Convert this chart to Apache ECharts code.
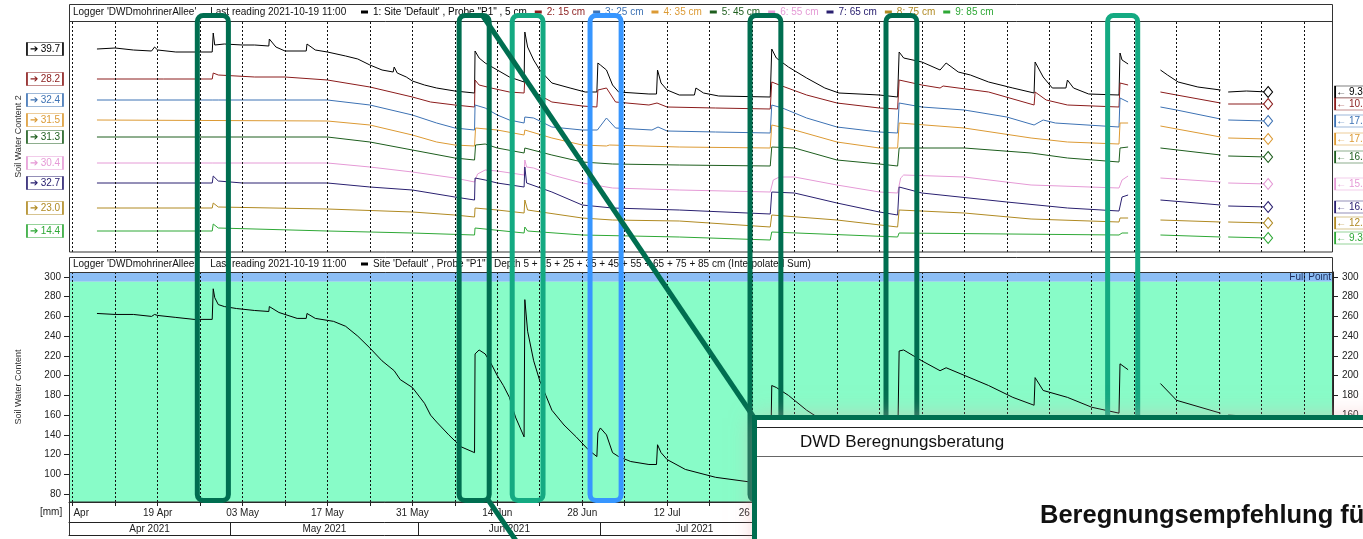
<!DOCTYPE html>
<html><head><meta charset="utf-8">
<script src="https://cdn.jsdelivr.net/npm/echarts@6/dist/echarts.min.js"></script>
<style>html,body{margin:0;padding:0;background:#fff;overflow:hidden}#c{width:1363px;height:539px}</style>
</head><body><div id="c"></div>
<script>
// ---------------- DATA ----------------
const YEAR = 2021;
const loggerTitle = "Logger 'DWDmohrinerAllee'     Last reading 2021-10-19 11:00";
const probeNames = ["1: Site 'Default' , Probe \"P1\" , 5 cm", "2: 15 cm", "3: 25 cm", "4: 35 cm", "5: 45 cm", "6: 55 cm", "7: 65 cm", "8: 75 cm", "9: 85 cm"];
const sumName = "Site 'Default' , Probe \"P1\" , Depth 5 + 15 + 25 + 35 + 45 + 55 + 65 + 75 + 85 cm (Interpolated Sum)";
const startLabels = ['39.7','28.2','32.4','31.5','31.3','30.4','32.7','23.0','14.4'];
const endLabels = ['9.3','10.1','17.3','17.0','16.4','15.6','16.3','12.8','9.3'];

// top panel: relative display level of each probe trace (hidden scale 0..231)
const probe1 = [['04-09',203],['04-12',204],['04-15',202],['04-18',201],['04-18 12:00',205],['04-19',202],['04-22',200],['04-25',200],['04-28',200],['04-28 04:00',219],['04-28 10:00',207],['04-30',208],['05-03',207],['05-05',207],['05-07 08:00',206],['05-07 10:00',213],['05-08 12:00',205],['05-10',201],['05-13 12:00',201],['05-13 15:00',208],['05-15',202],['05-17',200],['05-20',196],['05-22',193],['05-24',187],['05-26',182],['05-27 20:00',180],['05-28',185],['05-28 12:00',179],['05-30',175],['05-31',171],['06-02',167],['06-04',164],['06-07',161],['06-10 06:00',159],['06-10 08:00',201],['06-11',194],['06-12',189],['06-14',182],['06-16',175],['06-18 10:00',170],['06-18 13:00',220],['06-19',205],['06-20',192],['06-21',182],['06-23',169],['06-26',164],['06-28 12:00',160],['06-30 10:00',160],['06-30 14:00',189],['07-01',187],['07-02',182],['07-03',167],['07-04',160],['07-09',158],['07-10 06:00',158],['07-10 10:00',182],['07-11',169],['07-12',162],['07-14',157],['07-16 12:00',157],['07-16 18:00',164],['07-18',159],['07-20 12:00',156],['07-29',155],['07-29 06:00',203],['07-30',194],['08-01',185],['08-04',174],['08-07',164],['08-09 08:00',159],['08-16',157],['08-19',155],['08-19 06:00',200],['08-20',194],['08-23',190],['08-26',182],['08-27',189],['08-29',180],['08-31',177],['09-03',170],['09-07',164],['09-10 12:00',159],['09-10 16:00',190],['09-12',175],['09-13 12:00',164],['09-15 18:00',164],['09-16',172],['09-17',164],['09-19 12:00',158],['09-24 12:00',157],['09-24 16:00',199],['09-25',192],['09-26',188],['09-28',null],['10-01 08:00',182],['10-02 12:00',177],['10-04 06:00',170],['10-07 12:00',165],['10-11 06:00',162],['10-12',null],['10-12 12:00',160],['10-15 12:00',161],['10-19 02:00',160]];
const probe2 = [['04-09',173],['04-20',173],['04-28',173],['04-28 04:00',179],['04-29',177],['05-05',175],['05-10',175],['05-17',172],['05-24',165],['05-31',155],['06-03',150],['06-07',147],['06-10 06:00',145],['06-10 08:00',172],['06-11',167],['06-13',164],['06-16',160],['06-18 10:00',159],['06-18 13:00',174],['06-20',160],['06-23',150],['06-28',146],['06-30 10:00',145],['06-30 14:00',162],['07-02',164],['07-03 12:00',150],['07-09',147],['07-10 08:00',149],['07-12',145],['07-20',144],['07-29',143],['07-29 06:00',170],['07-30 12:00',167],['08-04',157],['08-09',149],['08-16',144],['08-19',143],['08-19 06:00',172],['08-23',167],['08-26',164],['08-26 12:00',166],['09-03',160],['09-10 12:00',147],['09-10 16:00',160],['09-12 12:00',152],['09-16',147],['09-24 12:00',145],['09-24 16:00',169],['09-26',167],['09-28',null],['10-01 08:00',160],['10-04',157],['10-11 06:00',149],['10-12',null],['10-12 12:00',148],['10-19 02:00',148]];
const probe3 = [['04-09',152],['04-28',152],['04-28 06:00',153],['04-29',152],['05-17',152],['05-24',147],['05-31',137],['06-04',129],['06-07',124],['06-10 06:00',122],['06-10 08:00',147],['06-12',144],['06-14',137],['06-16',132],['06-18 10:00',129],['06-18 13:00',135],['06-20',134],['06-23',125],['06-28',122],['06-30 12:00',122],['07-02',134],['07-03 12:00',124],['07-09 12:00',122],['07-10 12:00',125],['07-12',121],['07-20',120],['07-29',119],['07-29 06:00',147],['07-31',144],['08-04',134],['08-09',125],['08-16',120],['08-19',119],['08-19 06:00',149],['08-23',145],['08-30',142],['09-06',135],['09-10 12:00',127],['09-12',132],['09-14',129],['09-24 12:00',125],['09-24 16:00',154],['09-26',150],['09-28',null],['10-01 08:00',145],['10-04',142],['10-11 06:00',133],['10-12',null],['10-12 12:00',132],['10-19 02:00',131]];
const probe4 = [['04-09',132],['05-17',131],['05-24',127],['05-31',117],['06-04',110],['06-07',107],['06-10 06:00',106],['06-10 10:00',124],['06-14',122],['06-18 10:00',117],['06-18 13:00',122],['06-23',114],['06-28',107],['07-02',106],['07-02 12:00',107],['07-14',105],['07-29',104],['07-29 06:00',127],['08-02',122],['08-09',110],['08-16',104],['08-19',104],['08-19 06:00',129],['08-30',124],['09-10',114],['09-16',110],['09-24 12:00',108],['09-24 16:00',129],['09-26',129],['09-28',null],['10-01 08:00',126],['10-11 06:00',115],['10-12',null],['10-12 12:00',114],['10-19 02:00',113]];
const probe5 = [['04-09',115],['05-17',115],['05-24',110],['05-31',102],['06-07',94],['06-10 06:00',92],['06-10 10:00',107],['06-12',108],['06-14',104],['06-18 10:00',99],['06-18 13:00',104],['06-23',97],['06-28',90],['07-03',88],['07-14',87],['07-29',86],['07-29 06:00',105],['08-02',104],['08-09',92],['08-16',88],['08-19',86],['08-19 06:00',104],['08-30',104],['09-10',99],['09-16',94],['09-24 12:00',90],['09-24 16:00',104],['09-26',105],['09-28',null],['10-01 08:00',104],['10-11 06:00',97],['10-12',null],['10-12 12:00',96],['10-19 02:00',95]];
const probe6 = [['04-09',89],['04-28',89],['04-28 06:00',90],['05-17',89],['05-24',85],['05-31',80],['06-07',74],['06-10 06:00',70],['06-10 18:00',78],['06-12',82],['06-14',81],['06-18 10:00',77],['06-18 13:00',92],['06-18 20:00',85],['06-20',84],['06-23',77],['06-28',69],['07-03',64],['07-14',62],['07-29',60],['07-29 12:00',72],['07-30 12:00',75],['08-02',75],['08-09',67],['08-16',60],['08-19',59],['08-19 12:00',74],['08-20',77],['08-30',75],['09-10',67],['09-24 12:00',64],['09-25',72],['09-26',76],['09-28',null],['10-01 08:00',74],['10-11 06:00',70],['10-12',null],['10-12 12:00',69],['10-19 02:00',68]];
const probe7 = [['04-09',69],['04-28',69],['04-28 04:00',76],['04-29',71],['05-03',69],['05-17',69],['05-24',65],['05-31',62],['06-07',55],['06-10 06:00',52],['06-10 08:00',74],['06-12',72],['06-14',69],['06-18 10:00',65],['06-18 13:00',85],['06-18 20:00',69],['06-23',60],['06-28',47],['07-03',44],['07-14',42],['07-29',38],['07-29 06:00',60],['08-02',59],['08-09',49],['08-16',40],['08-19',37],['08-19 06:00',65],['08-23',59],['09-06',50],['09-16',44],['09-24 12:00',41],['09-25',55],['09-26',57],['09-28',null],['10-01 08:00',52],['10-11 06:00',47],['10-12',null],['10-12 12:00',46],['10-19 02:00',45]];
const probe8 = [['04-09',44],['04-28',44],['04-28 04:00',49],['04-29',45],['05-17',43],['05-31',40],['06-07',37],['06-10 06:00',35],['06-10 08:00',44],['06-14',42],['06-18 10:00',39],['06-18 13:00',52],['06-19',42],['06-28',34],['07-03',32],['07-14',31],['07-29',25],['07-29 06:00',37],['08-09',32],['08-19',25],['08-19 06:00',42],['08-30',39],['09-10',33],['09-24 12:00',30],['09-24 16:00',34],['09-26',34],['09-28',null],['10-01 08:00',32],['10-11 06:00',30],['10-12',null],['10-12 12:00',30],['10-19 02:00',29]];
const probe9 = [['04-09',21],['04-28',21],['04-28 04:00',28],['04-29',24],['05-17',21],['05-31',19],['06-10 06:00',17],['06-10 08:00',24],['06-18 10:00',19],['06-18 13:00',25],['06-19',21],['06-28',17],['07-14',15],['07-29',12],['07-29 06:00',20],['08-19',15],['08-19 06:00',19],['09-24 12:00',17],['09-25',19],['09-26',19],['09-28',null],['10-01 08:00',17],['10-11 06:00',15],['10-12',null],['10-12 12:00',15],['10-19 02:00',14]];

// bottom panel: soil water content sum [mm]
const sumSeries = [['04-09',263],['04-12',262],['04-15',262],['04-18',260],['04-18 12:00',262],['04-19',261],['04-22',259],['04-25',257],['04-28',257],['04-28 04:00',288],['04-28 10:00',279],['04-29',272],['04-30',270],['05-02',268],['05-05',266],['05-07 08:00',265],['05-07 10:00',270],['05-09',264],['05-12',258],['05-13 12:00',258],['05-13 15:00',263],['05-15',258],['05-18',255],['05-20',250],['05-22',240],['05-24',228],['05-26',215],['05-28',205],['05-29',196],['05-31',188],['06-02',172],['06-03',160],['06-04',153],['06-06',140],['06-08',128],['06-10 06:00',122],['06-10 08:00',222],['06-11',226],['06-12',222],['06-13',212],['06-14',200],['06-15',190],['06-16',178],['06-17',158],['06-18 10:00',138],['06-18 13:00',277],['06-19',245],['06-20',215],['06-21',195],['06-22',180],['06-23',165],['06-25',150],['06-27',138],['06-29',125],['06-30 10:00',118],['06-30 14:00',142],['07-01',147],['07-02',140],['07-03',122],['07-04',118],['07-06',113],['07-09',110],['07-10 06:00',110],['07-10 10:00',130],['07-11',122],['07-12',115],['07-15',105],['07-20',97],['07-26',92],['07-29',90],['07-29 06:00',190],['07-30',188],['08-01',180],['08-04',165],['08-09',145],['08-16',130],['08-19',125],['08-19 06:00',225],['08-20',226],['08-23',215],['08-26',205],['08-27',208],['09-03',190],['09-07',178],['09-10 12:00',170],['09-10 16:00',198],['09-12',185],['09-16',178],['09-20',168],['09-24 12:00',162],['09-24 16:00',212],['09-26',206],['09-28',null],['10-01 08:00',192],['10-04',175],['10-11 06:00',162],['10-12',null],['10-12 12:00',160],['10-19 02:00',158]];

const bandFullPoint = [295, 305];
const bandAvailable = [72, 295];
const yTickValues = [80,100,120,140,160,180,200,220,240,260,280,300];
const dateTickLabels = [['04-05','Apr'],['04-19','19 Apr'],['05-03','03 May'],['05-17','17 May'],['05-31','31 May'],['06-14','14 Jun'],['06-28','28 Jun'],['07-12','12 Jul'],['07-26','26 Jul'],['08-09','09 Aug'],['08-23','23 Aug'],['09-06','06 Sep'],['09-20','20 Sep'],['10-04','04 Oct'],['10-18','18 Oct']];
const monthStarts = ['05-01','06-01','07-01','08-01','09-01','10-01'];
const monthLabels = [['04-17 16:00','Apr 2021'],['05-16 12:00','May 2021'],['06-16','Jun 2021'],['07-16 12:00','Jul 2021'],['08-16 12:00','Aug 2021'],['09-16','Sep 2021'],['10-16','Oct 2021']];
const highlightRanges = [['04-25 13:00','04-30 16:00'],['06-07 17:00','06-12 16:00'],['06-16 11:00','06-21 13:00'],['06-29 07:00','07-04 10:00'],['07-25 16:00','07-30 18:00'],['08-17 02:00','08-22 04:00'],['09-22 15:00','09-27 14:00']];
const insetHeader = 'DWD Beregnungsberatung';
const insetTitle = 'Beregnungsempfehlung für';

// ---------------- STYLE ----------------
const FONT = "'Liberation Sans', Arial, sans-serif";
const probeColors = ['#000000','#8b1c1c','#3d72b4','#dc9a34','#1e5e1e','#e59ad6','#2a2070','#b08a22','#2ea836'];
const highlightColors = ['#006e50','#006e50','#14aa82','#3796ff','#006e50','#006e50','#14aa82'];
const DARK = '#006e50';

function ts(s){ const p=s.split(' '); const md=p[0].split('-').map(Number); const hm=(p[1]||'00:00').split(':').map(Number); return new Date(YEAR,md[0]-1,md[1],hm[0],hm[1]).getTime(); }
const prep = arr => arr.map(d => [ts(d[0]), d[1]]);
const X_MIN = ts('04-04 09:20'), X_MAX = ts('10-29 18:45');
const weekTs = []; for (let t = ts('04-05'); t <= X_MAX; t += 7*86400000) weekTs.push(t);
const labelTs = dateTickLabels.map(d => ts(d[0]));
const monthLabelTs = monthLabels.map(d => ts(d[0]));
const nearest = (arr, v) => { let bi=0, bd=Infinity; arr.forEach((a,i)=>{ const dd=Math.abs(a-v); if(dd<bd){bd=dd;bi=i;} }); return bi; };

const probes = [probe1,probe2,probe3,probe4,probe5,probe6,probe7,probe8,probe9].map(prep);
const sumData = prep(sumSeries);

const chart = echarts.init(document.getElementById('c'), null, {renderer:'canvas'});
const series = [];
series.push({type:'line', xAxisIndex:0, yAxisIndex:0, data:[], z:1, silent:true,
  markLine:{silent:true, symbol:['none','none'], label:{show:false}, lineStyle:{color:'#111', type:[2,2], width:1}, data: weekTs.map(t=>({xAxis:t}))}});
probes.forEach((d,i) => {
  const col = probeColors[i];
  const first = d[0], last = d[d.length-1];
  series.push({type:'line', name:probeNames[i], xAxisIndex:0, yAxisIndex:0, data:d, color:col, showSymbol:false, symbol:'none',
    lineStyle:{width:1, color:col}, z:3, connectNulls:false, silent:true,
    markPoint:{silent:true, data:[
      {coord:first, symbol:'rect', symbolSize:[36,13], symbolOffset:[-52,0], itemStyle:{color:'#fff', borderColor:col, borderWidth:1},
        label:{show:true, position:'inside', formatter:'➔ '+startLabels[i], color:col, fontSize:10, fontFamily:FONT}},
      {coord:last, symbol:'diamond', symbolSize:[9,11], itemStyle:{color:'#fff', borderColor:col, borderWidth:1}, label:{show:false}},
      {coord:last, symbol:'rect', symbolSize:[40,12], symbolOffset:[87,0], itemStyle:{color:'#fff', borderColor:col, borderWidth:1},
        label:{show:true, position:'insideLeft', distance:2, formatter:'← '+endLabels[i], color:col, fontSize:10, fontFamily:FONT}}
    ]}});
});
series.push({type:'line', xAxisIndex:1, yAxisIndex:1, data:[], z:0, silent:true,
  markArea:{silent:true, data:[
    [{yAxis:bandFullPoint[0], itemStyle:{color:'#8cbef5'}, label:{show:true, position:'insideRight', distance:2, formatter:'Full Point', color:'#1b2b5b', fontSize:10, fontFamily:FONT}},{yAxis:bandFullPoint[1]}],
    [{yAxis:bandAvailable[0], itemStyle:{color:'#88fcc8'}, label:{show:false}},{yAxis:bandAvailable[1]}]
  ]}});
series.push({type:'line', xAxisIndex:1, yAxisIndex:1, data:[], z:1, silent:true,
  markLine:{silent:true, symbol:['none','none'], label:{show:false}, lineStyle:{color:'#111', type:[2,2], width:1}, data: weekTs.map(t=>({xAxis:t}))}});
series.push({type:'line', name:sumName, xAxisIndex:1, yAxisIndex:1, data:sumData, color:'#000', showSymbol:false, symbol:'none', lineStyle:{width:1,color:'#000'}, z:3, silent:true});

const option = {
  animation:false,
  textStyle:{fontFamily:FONT},
  title:[
    {text:loggerTitle, left:73, top:7, padding:0, textStyle:{fontSize:10, fontWeight:'normal', color:'#111', fontFamily:FONT}},
    {text:loggerTitle, left:73, top:259, padding:0, textStyle:{fontSize:10, fontWeight:'normal', color:'#111', fontFamily:FONT}}
  ],
  legend:[
    {data: probeNames.map((n,i)=>({name:n, textStyle:{color:probeColors[i]}})), left:361, top:7, padding:0, itemWidth:7, itemHeight:3, itemGap:8, icon:'rect', selectedMode:false, textStyle:{fontSize:10, fontFamily:FONT}},
    {data:[{name:sumName}], left:361, top:259, padding:0, itemWidth:7, itemHeight:3, icon:'rect', selectedMode:false, textStyle:{fontSize:10, color:'#111', fontFamily:FONT}}
  ],
  grid:[{left:69, right:30, top:21, height:231},{left:69, right:30, top:272, height:230},{left:69, right:30, top:522, height:13}],
  xAxis:[
    {gridIndex:0, type:'value', min:X_MIN, max:X_MAX, axisLine:{show:false}, axisTick:{show:false}, axisLabel:{show:false}, splitLine:{show:false}},
    {gridIndex:1, type:'value', position:'bottom', min:X_MIN, max:X_MAX, axisLine:{show:true, onZero:false, lineStyle:{color:'#222'}},
      axisTick:{show:true, length:4, customValues:weekTs, lineStyle:{color:'#222'}},
      axisLabel:{show:true, customValues:labelTs, margin:6, fontSize:10, color:'#222', hideOverlap:false,
        formatter:(v)=>{ const s=dateTickLabels[nearest(labelTs,v)][1]; return s==='Apr' ? '{f|Apr}' : s; },
        rich:{f:{padding:[0,0,0,17], fontSize:10, color:'#222'}}},
      splitLine:{show:false}},
    {gridIndex:2, type:'value', position:'bottom', min:X_MIN, max:X_MAX, axisLine:{show:true, onZero:false, lineStyle:{color:'#222'}},
      axisTick:{show:true, inside:true, length:13, customValues:[X_MIN, ...monthStarts.map(ts), X_MAX], lineStyle:{color:'#222'}},
      axisLabel:{show:true, inside:true, margin:1, customValues:monthLabelTs, fontSize:10, color:'#222', hideOverlap:false,
        formatter:(v)=>monthLabels[nearest(monthLabelTs,v)][1]},
      splitLine:{show:false}},
    {gridIndex:2, type:'value', position:'top', min:X_MIN, max:X_MAX, axisLine:{show:true, onZero:false, lineStyle:{color:'#222'}}, axisTick:{show:false}, axisLabel:{show:false}, splitLine:{show:false}}
  ],
  yAxis:[
    {gridIndex:0, type:'value', min:0, max:231, axisLine:{show:false}, axisTick:{show:false}, axisLabel:{show:false}, splitLine:{show:false},
      name:'Soil Water Content 2', nameLocation:'middle', nameGap:46, nameTextStyle:{fontSize:9, color:'#333', fontFamily:FONT}},
    {gridIndex:1, type:'value', min:72, max:305, position:'left', axisLine:{show:true, lineStyle:{color:'#222'}},
      axisTick:{show:true, length:5, customValues:yTickValues, lineStyle:{color:'#222'}},
      axisLabel:{show:true, customValues:yTickValues, margin:8, fontSize:10, color:'#222'}, splitLine:{show:false},
      name:'Soil Water Content', nameLocation:'middle', nameGap:46, nameTextStyle:{fontSize:9, color:'#333', fontFamily:FONT}},
    {gridIndex:1, type:'value', min:72, max:305, position:'right', axisLine:{show:true, lineStyle:{color:'#222'}},
      axisTick:{show:true, length:5, customValues:yTickValues, lineStyle:{color:'#222'}},
      axisLabel:{show:true, customValues:yTickValues, margin:9, fontSize:10, color:'#222'}, splitLine:{show:false}},
    {gridIndex:2, type:'value', min:0, max:1, show:false}
  ],
  series: series
};
chart.setOption(option);

// ----- frames and annotation overlay (positions from the axis scale) -----
const px = s => chart.convertToPixel({xAxisIndex:0}, ts(s));
const gfx = [];
const frame = {fill:'none', stroke:'#333', lineWidth:1};
gfx.push({type:'rect', z:50, silent:true, shape:{x:69.5, y:4.5, width:1263, height:247.5}, style:frame});
gfx.push({type:'line', z:50, silent:true, shape:{x1:69.5, y1:21.5, x2:1332.5, y2:21.5}, style:{stroke:'#333', lineWidth:1}});
gfx.push({type:'rect', z:50, silent:true, shape:{x:69.5, y:257.5, width:1263, height:244.5}, style:frame});
gfx.push({type:'line', z:50, silent:true, shape:{x1:69.5, y1:272.5, x2:1332.5, y2:272.5}, style:{stroke:'#333', lineWidth:1}});
gfx.push({type:'line', z:50, silent:true, shape:{x1:69.5, y1:502, x2:69.5, y2:535}, style:{stroke:'#333', lineWidth:1}});
gfx.push({type:'text', z:50, silent:true, x:40, y:512, style:{text:'[mm]', fill:'#222', font:'10px '+FONT, verticalAlign:'middle'}});
let boxB = null;
highlightRanges.forEach((r,i) => {
  const x1 = px(r[0]), x2 = px(r[1]);
  if (i===1) boxB = [x1,x2];
  gfx.push({type:'rect', z:100, silent:true, shape:{x:x1, y:15.5, width:x2-x1, height:485, r:6}, style:{fill:'none', stroke:highlightColors[i], lineWidth:5}});
});
gfx.push({type:'line', z:101, silent:true, shape:{x1:boxB[1]-7, y1:15, x2:755, y2:419}, style:{stroke:DARK, lineWidth:5}});
gfx.push({type:'line', z:101, silent:true, shape:{x1:boxB[1]-1, y1:500, x2:boxB[1]+27, y2:541}, style:{stroke:DARK, lineWidth:5}});
gfx.push({type:'rect', z:199, silent:true, shape:{x:754.5, y:417.5, width:700, height:200}, style:{fill:'#fff', shadowBlur:22, shadowColor:'rgba(235,160,165,0.55)'}});
gfx.push({type:'rect', z:200, silent:true, shape:{x:754.5, y:417.5, width:700, height:200}, style:{fill:'#fff', stroke:DARK, lineWidth:5}});
gfx.push({type:'line', z:201, silent:true, shape:{x1:757, y1:427.5, x2:1363, y2:427.5}, style:{stroke:'#222', lineWidth:1}});
gfx.push({type:'line', z:201, silent:true, shape:{x1:757, y1:456.5, x2:1363, y2:456.5}, style:{stroke:'#666', lineWidth:1}});
gfx.push({type:'text', z:201, silent:true, x:800, y:442, style:{text:insetHeader, fill:'#111', font:'17px '+FONT, verticalAlign:'middle'}});
gfx.push({type:'text', z:201, silent:true, x:1040, y:516, style:{text:insetTitle, fill:'#111', font:'bold 25.5px '+FONT, verticalAlign:'middle'}});
chart.setOption({graphic: gfx});
</script></body></html>
